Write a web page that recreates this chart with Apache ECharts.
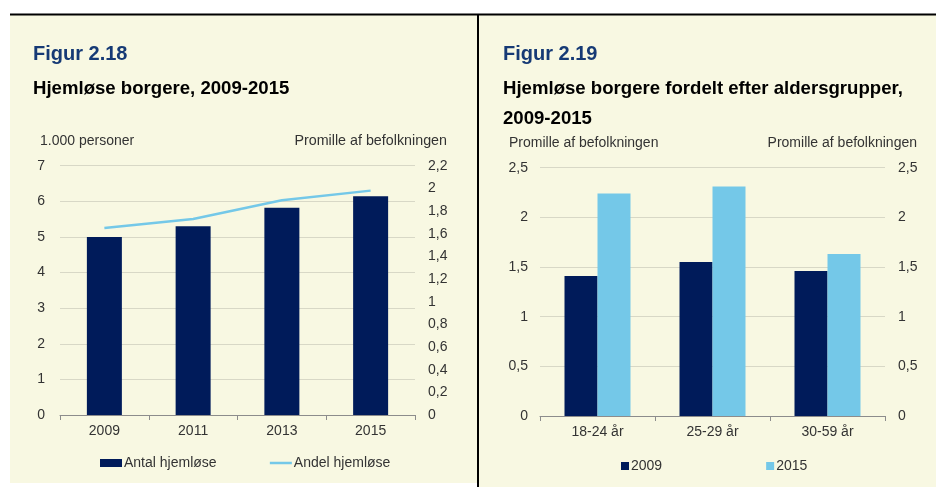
<!DOCTYPE html>
<html>
<head>
<meta charset="utf-8">
<script src="https://cdn.jsdelivr.net/npm/echarts@6/dist/echarts.min.js"></script>
<style>
html,body{margin:0;padding:0;background:#fff;}
#c{width:936px;height:487px;}
</style>
</head>
<body>
<div id="c"></div>
<script>
// Figure 2.18
const years = ['2009', '2011', '2013', '2015'];
const antalHjemlose = [5.0, 5.3, 5.82, 6.14];      // 1.000 personer
const andelHjemlose = [1.65, 1.73, 1.895, 1.98];   // promille
const leftTicks1 = {min: 0, max: 7, interval: 1};
const rightTicks1 = {min: 0, max: 2.2, interval: 0.2};

// Figure 2.19
const ageGroups = ['18-24 år', '25-29 år', '30-59 år'];
const values2009 = [1.41, 1.55, 1.46];
const values2015 = [2.24, 2.31, 1.63];
const ticks2 = {min: 0, max: 2.5, interval: 0.5};

const NAVY = '#001b5a';
const LIGHT = '#74c8e8';
const CREAM = '#f8f8e2';
const TXT = '#333333';
const GRID = '#d8d8c6';
const FONT = '"Liberation Sans", Arial, sans-serif';

const fmt = v => (Math.round(v * 10) / 10).toString().replace('.', ',');

const chart = echarts.init(document.getElementById('c'));

function yAxisCommon(t, grid, pos, margin, split) {
  return {
    type: 'value', gridIndex: grid, position: pos,
    min: t.min, max: t.max, interval: t.interval,
    axisLine: {show: false}, axisTick: {show: false},
    axisLabel: {color: TXT, fontSize: 14, fontFamily: FONT, margin: margin, formatter: fmt},
    splitLine: {show: split, lineStyle: {color: GRID, width: 1}}
  };
}

function xAxisCommon(cats, grid) {
  return {
    type: 'category', gridIndex: grid, data: cats,
    axisLine: {lineStyle: {color: '#8c8c8c', width: 1}},
    axisTick: {show: true, length: 5, lineStyle: {color: '#8c8c8c'}},
    axisLabel: {color: TXT, fontSize: 14, fontFamily: FONT, margin: 9}
  };
}

const option = {
  animation: false,
  backgroundColor: '#ffffff',
  graphic: [
    {type: 'rect', z: -10, shape: {x: 10, y: 15, width: 467, height: 468}, style: {fill: CREAM}},
    {type: 'rect', z: -10, shape: {x: 479, y: 15, width: 457, height: 472}, style: {fill: CREAM}},
    {type: 'line', shape: {x1: 10, y1: 14.5, x2: 936, y2: 14.5}, style: {stroke: '#000', lineWidth: 2}},
    {type: 'line', shape: {x1: 478, y1: 14, x2: 478, y2: 487}, style: {stroke: '#000', lineWidth: 2}},
    {type: 'text', x: 33, y: 54, style: {text: 'Figur 2.18', fill: '#163a75', font: 'bold 20px ' + FONT, textVerticalAlign: 'middle'}},
    {type: 'text', x: 33, y: 89, style: {text: 'Hjemløse borgere, 2009-2015', fill: '#000', font: 'bold 18.6px ' + FONT, textVerticalAlign: 'middle'}},
    {type: 'text', x: 40, y: 141, style: {text: '1.000 personer', fill: TXT, font: '14px ' + FONT, textVerticalAlign: 'middle'}},
    {type: 'text', x: 447, y: 141, style: {text: 'Promille af befolkningen', fill: TXT, font: '14.3px ' + FONT, textVerticalAlign: 'middle', textAlign: 'right'}},
    {type: 'text', x: 503, y: 54, style: {text: 'Figur 2.19', fill: '#163a75', font: 'bold 20px ' + FONT, textVerticalAlign: 'middle'}},
    {type: 'text', x: 503, y: 89, style: {text: 'Hjemløse borgere fordelt efter aldersgrupper,', fill: '#000', font: 'bold 18.6px ' + FONT, textVerticalAlign: 'middle'}},
    {type: 'text', x: 503, y: 119, style: {text: '2009-2015', fill: '#000', font: 'bold 18.6px ' + FONT, textVerticalAlign: 'middle'}},
    {type: 'text', x: 509, y: 143, style: {text: 'Promille af befolkningen', fill: TXT, font: '14px ' + FONT, textVerticalAlign: 'middle'}},
    {type: 'text', x: 917, y: 143, style: {text: 'Promille af befolkningen', fill: TXT, font: '14px ' + FONT, textVerticalAlign: 'middle', textAlign: 'right'}}
  ],
  grid: [
    {left: 60, right: 521, top: 165.7, bottom: 72},
    {left: 540, right: 51, top: 167.7, bottom: 71}
  ],
  xAxis: [xAxisCommon(years, 0), xAxisCommon(ageGroups, 1)],
  yAxis: [
    yAxisCommon(leftTicks1, 0, 'left', 15, true),
    yAxisCommon(rightTicks1, 0, 'right', 13, false),
    yAxisCommon(ticks2, 1, 'left', 12, true),
    yAxisCommon(ticks2, 1, 'right', 13, false)
  ],
  legend: [
    {
      left: 100, top: 456, padding: 0, itemWidth: 22, itemHeight: 8, itemGap: 52,
      textStyle: {color: TXT, fontSize: 14, fontFamily: FONT, padding: [0, 0, 0, -3]},
      data: [
        {name: 'Antal hjemløse', icon: 'rect'},
        {name: 'Andel hjemløse', itemStyle: {opacity: 0}, lineStyle: {width: 2.5, color: LIGHT}}
      ]
    },
    {
      left: 621, top: 459, padding: 0, itemWidth: 8, itemHeight: 8, itemGap: 104,
      textStyle: {color: TXT, fontSize: 14, fontFamily: FONT, padding: [0, 0, 0, -3]},
      data: [{name: '2009', icon: 'rect'}, {name: '2015', icon: 'rect'}]
    }
  ],
  series: [
    {name: 'Antal hjemløse', type: 'bar', xAxisIndex: 0, yAxisIndex: 0, data: antalHjemlose,
     barWidth: 35, itemStyle: {color: NAVY}},
    {name: 'Andel hjemløse', type: 'line', xAxisIndex: 0, yAxisIndex: 1, data: andelHjemlose,
     symbol: 'none', lineStyle: {color: LIGHT, width: 2.5}, itemStyle: {color: LIGHT}},
    {name: '2009', type: 'bar', xAxisIndex: 1, yAxisIndex: 2, data: values2009,
     barWidth: 33, barGap: '0%', itemStyle: {color: NAVY}},
    {name: '2015', type: 'bar', xAxisIndex: 1, yAxisIndex: 2, data: values2015,
     barWidth: 33, barGap: '0%', itemStyle: {color: LIGHT}}
  ]
};
chart.setOption(option);
</script>
</body>
</html>
